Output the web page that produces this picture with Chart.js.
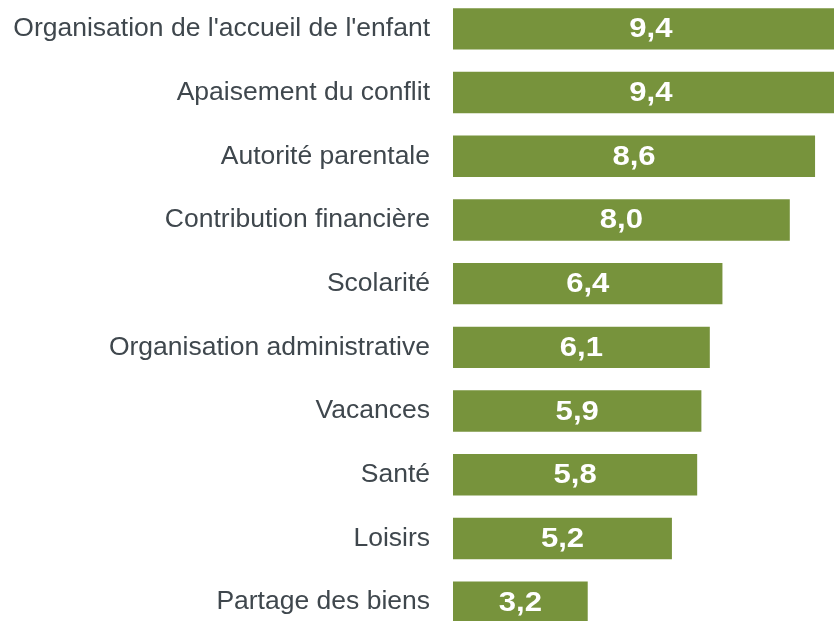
<!DOCTYPE html>
<html lang="fr">
<head>
    <meta charset="UTF-8">
    <title>Graphique</title>
    <script src="https://cdn.jsdelivr.net/npm/chart.js"></script>
    <style>
        html, body { margin: 0; padding: 0; overflow: hidden; background: #fff; }
        #wrap { position: absolute; left: 0; top: -3px; width: 874px; height: 637px; }
    </style>
</head>
<body>
    <div id="wrap"><canvas id="chart"></canvas></div>

    <script>
        // categories and values
        var categories = [
            "Organisation de l'accueil de l'enfant",
            "Apaisement du conflit",
            "Autorité parentale",
            "Contribution financière",
            "Scolarité",
            "Organisation administrative",
            "Vacances",
            "Santé",
            "Loisirs",
            "Partage des biens"
        ];
        var values = [9.4, 9.4, 8.6, 8.0, 6.4, 6.1, 5.9, 5.8, 5.2, 3.2];

        // white value written in the middle of each bar (font is a bit wide in the original)
        var valueLabels = {
            id: 'valueLabels',
            afterDatasetsDraw: function(chart) {
                var ctx = chart.ctx;
                var meta = chart.getDatasetMeta(0);
                meta.data.forEach(function(bar, i) {
                    var cx = (bar.x + bar.base) / 2;
                    ctx.save();
                    ctx.translate(cx, bar.y + 1);
                    ctx.scale(1.15, 1);
                    ctx.fillStyle = '#ffffff';
                    ctx.font = 'bold 27px "Liberation Sans", Arial, sans-serif';
                    ctx.textAlign = 'center';
                    ctx.textBaseline = 'middle';
                    ctx.fillText(values[i].toFixed(1).replace('.', ','), 0, 0);
                    ctx.restore();
                });
            }
        };

        var ctx = document.getElementById('chart').getContext('2d');
        var chart = new Chart(ctx, {
            type: 'bar',
            data: {
                labels: categories,
                datasets: [{
                    data: values,
                    backgroundColor: '#77933c',
                    borderWidth: 0,
                    barPercentage: 0.65,
                    categoryPercentage: 1.0
                }]
            },
            options: {
                indexAxis: 'y',
                responsive: true,
                maintainAspectRatio: false,
                animation: false,
                layout: { padding: 0 },
                plugins: {
                    legend: { display: false },
                    tooltip: { enabled: false }
                },
                scales: {
                    x: {
                        min: 0,
                        max: 10,
                        display: false
                    },
                    y: {
                        grid: { display: false, drawTicks: false },
                        border: { display: false },
                        ticks: {
                            color: '#3f474d',
                            padding: 23,
                            font: { family: '"Liberation Sans", Arial, sans-serif', size: 26.5 }
                        },
                        afterFit: function(scale) {
                            scale.width = 453;
                            scale.paddingTop = 0;
                            scale.paddingBottom = 0;
                        }
                    }
                }
            },
            plugins: [valueLabels]
        });
    </script>
</body>
</html>
